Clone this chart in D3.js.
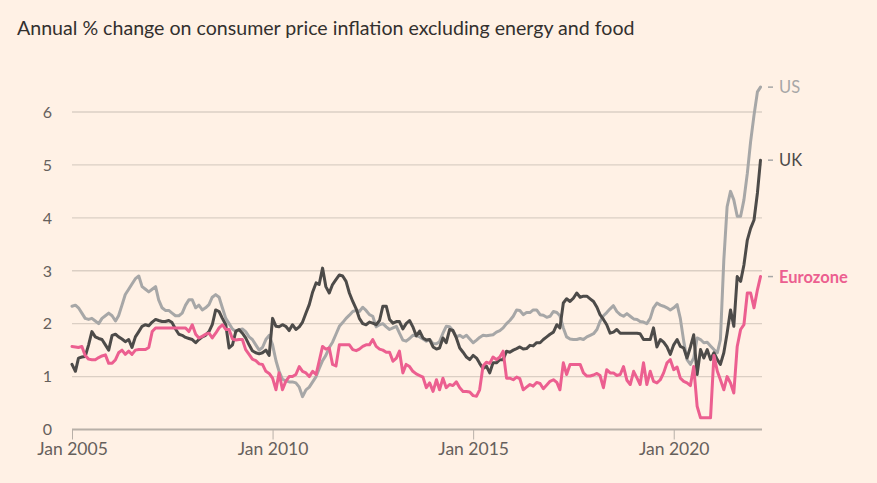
<!DOCTYPE html>
<html>
<head>
<meta charset="utf-8">
<script src="https://cdn.jsdelivr.net/npm/d3@7"></script>
<style>
  html, body { margin: 0; padding: 0; background: #fff1e5; }
  svg { display: block; }
  text { font-family: Lato, "Open Sans", sans-serif; }
</style>
</head>
<body>
<svg id="chart" width="877" height="483"></svg>
<script>
// ---- Data (monthly, first value plotted at Jan 2005, last at Mar 2022) ----
const startYear = 2005, startMonth = 0;
const title = "Annual % change on consumer price inflation excluding energy and food";
const yTicks = [0, 1, 2, 3, 4, 5, 6];
const xTickLabels = ["Jan 2005", "Jan 2010", "Jan 2015", "Jan 2020"];
const xTickYears = [2005, 2010, 2015, 2020];
const seriesNames = ["US", "UK", "Eurozone"];

const us = [
  2.33,2.35,2.3,2.2,2.1,2.08,2.1,2.05,2.0,2.1,2.15,2.2,2.15,2.05,2.15,2.35,2.55,2.65,2.75,2.85,
  2.9,2.7,2.65,2.6,2.65,2.7,2.45,2.3,2.25,2.25,2.2,2.15,2.15,2.2,2.35,2.45,2.45,2.3,2.35,2.26,
  2.3,2.36,2.5,2.55,2.5,2.3,2.1,2.0,1.9,1.85,1.88,1.9,1.85,1.75,1.7,1.6,1.5,1.55,1.7,1.78,
  1.6,1.3,1.1,0.95,0.92,0.9,0.9,0.88,0.8,0.62,0.75,0.8,0.9,1.0,1.15,1.3,1.4,1.55,1.65,1.8,
  1.95,2.02,2.1,2.16,2.23,2.25,2.23,2.31,2.25,2.17,2.14,1.94,1.98,2.0,1.94,1.89,1.92,1.95,1.82,1.69,
  1.67,1.72,1.78,1.77,1.75,1.71,1.67,1.7,1.62,1.62,1.66,1.82,1.95,1.94,1.87,1.75,1.78,1.74,1.78,1.71,
  1.64,1.69,1.74,1.78,1.77,1.78,1.79,1.84,1.87,1.92,2.0,2.06,2.14,2.26,2.25,2.17,2.21,2.21,2.26,2.26,
  2.17,2.16,2.12,2.14,2.23,2.21,2.15,1.92,1.75,1.71,1.7,1.7,1.72,1.7,1.75,1.78,1.81,1.89,2.04,2.15,
  2.21,2.28,2.34,2.23,2.17,2.14,2.19,2.14,2.09,2.08,2.04,2.03,2.0,2.1,2.3,2.39,2.35,2.33,2.3,2.26,
  2.3,2.36,2.1,1.67,1.32,1.23,1.35,1.73,1.7,1.64,1.65,1.58,1.51,1.45,1.7,3.2,4.21,4.5,4.34,4.03,
  4.03,4.34,4.84,5.44,5.94,6.38,6.47
];

const uk = [
  1.23,1.1,1.35,1.37,1.38,1.6,1.85,1.75,1.72,1.7,1.6,1.5,1.78,1.8,1.75,1.71,1.66,1.7,1.55,1.75,
  1.85,1.95,1.98,1.96,2.03,2.08,2.06,2.04,2.04,2.06,2.02,1.9,1.8,1.78,1.74,1.72,1.7,1.64,1.7,1.75,
  1.78,1.85,1.98,2.26,2.23,2.1,1.98,1.54,1.6,1.86,1.89,1.82,1.73,1.6,1.49,1.45,1.43,1.45,1.5,1.4,
  2.1,1.95,1.94,1.98,1.95,1.87,1.98,1.89,1.94,2.03,2.2,2.36,2.6,2.77,2.74,3.05,2.7,2.58,2.74,2.83,
  2.92,2.9,2.8,2.58,2.42,2.28,2.1,2.0,1.98,2.03,2.01,1.98,2.06,2.33,2.33,2.08,2.01,2.04,2.04,1.9,
  2.0,2.06,1.94,1.77,1.86,1.73,1.69,1.7,1.56,1.52,1.54,1.73,1.64,1.89,1.87,1.73,1.54,1.46,1.37,1.32,
  1.4,1.35,1.25,1.15,1.2,1.07,1.26,1.26,1.32,1.32,1.48,1.46,1.5,1.53,1.56,1.52,1.53,1.59,1.58,1.64,
  1.64,1.7,1.75,1.8,1.84,1.98,1.92,2.39,2.47,2.42,2.48,2.58,2.5,2.52,2.52,2.47,2.42,2.31,2.17,2.08,
  1.98,1.82,1.84,1.89,1.82,1.82,1.82,1.82,1.82,1.82,1.81,1.7,1.7,1.7,1.92,1.56,1.7,1.65,1.56,1.42,
  1.6,1.7,1.57,1.54,1.35,1.56,1.79,1.04,1.51,1.35,1.51,1.32,1.45,1.32,1.23,1.45,1.82,2.26,1.95,2.89,
  2.8,3.11,3.58,3.8,3.96,4.47,5.09
];

const eurozone = [
  1.57,1.56,1.55,1.57,1.4,1.33,1.32,1.32,1.36,1.39,1.41,1.25,1.25,1.32,1.45,1.5,1.42,1.48,1.42,1.5,
  1.51,1.51,1.51,1.55,1.85,1.92,1.92,1.92,1.92,1.92,1.92,1.92,1.92,1.92,1.92,1.85,1.98,1.8,1.73,1.76,
  1.8,1.82,1.73,1.82,1.92,1.98,1.89,1.89,1.71,1.69,1.7,1.7,1.51,1.42,1.33,1.3,1.24,1.23,1.1,1.06,
  0.97,0.75,1.07,0.75,0.91,1.0,1.0,1.04,1.19,1.1,1.07,1.0,1.1,1.04,1.29,1.57,1.52,1.54,1.23,1.2,
  1.6,1.6,1.6,1.6,1.51,1.49,1.52,1.57,1.6,1.6,1.7,1.57,1.52,1.5,1.46,1.46,1.29,1.35,1.48,1.07,
  1.23,1.19,1.1,1.05,1.02,0.99,0.79,0.88,0.72,0.94,0.75,0.97,0.79,0.85,0.83,0.9,0.79,0.72,0.72,0.71,
  0.64,0.63,0.75,1.2,1.27,1.25,1.37,1.32,1.37,1.48,0.97,0.97,0.94,0.99,0.96,0.75,0.8,0.85,0.82,0.89,
  0.87,0.77,0.84,0.91,0.94,0.89,0.75,1.26,1.04,1.23,1.23,1.23,1.23,1.07,1.01,1.01,1.03,1.06,1.02,0.79,
  1.13,1.07,1.07,1.02,1.04,1.19,0.93,0.85,1.1,0.97,0.85,1.26,0.85,1.1,0.91,0.88,0.94,1.07,1.26,1.32,
  1.13,1.18,0.97,0.91,0.88,0.83,1.19,0.44,0.22,0.22,0.22,0.22,1.4,1.1,0.94,0.75,1.0,0.88,0.69,1.57,
  1.89,1.98,2.58,2.58,2.3,2.64,2.89
];

// ---- Styles ----
const colors = { US: "#a7a7a7", UK: "#4d4b49", Eurozone: "#ec5f90" };
const W = 877, H = 483;

const svg = d3.select("#chart");
svg.append("rect").attr("width", W).attr("height", H).attr("fill", "#fff1e5");

const dateOf = i => new Date(startYear, startMonth + i, 1);
const n = us.length;

const x = d3.scaleTime()
  .domain([dateOf(0), dateOf(n - 1)])
  .range([72, 760.5]);
const y = d3.scaleLinear().domain([0, 6]).range([429.5, 112]);

// title
svg.append("text")
  .attr("x", 17).attr("y", 34.5)
  .attr("fill", "#33302e")
  .style("font-size", "19.6px")
  .text(title);

// gridlines
svg.append("g").selectAll("line").data(yTicks.filter(d => d > 0)).join("line")
  .attr("x1", 72).attr("x2", 762)
  .attr("y1", d => y(d)).attr("y2", d => y(d))
  .attr("stroke", "#dbcfc4").attr("stroke-width", 1.3);

// y labels
svg.append("g").selectAll("text").data(yTicks).join("text")
  .attr("x", 52).attr("y", d => y(d))
  .attr("dy", "0.36em")
  .attr("text-anchor", "end")
  .attr("fill", "#66605c")
  .style("font-size", "16px")
  .text(d => d);

// x axis
const xAxis = d3.axisBottom(x)
  .tickValues(xTickYears.map(yr => new Date(yr, 0, 1)))
  .tickFormat((d, i) => xTickLabels[i])
  .tickSize(10)
  .tickPadding(3);
const gx = svg.append("g").attr("transform", `translate(0,${y(0)})`).call(xAxis);
gx.select(".domain").remove();
gx.selectAll(".tick line").attr("stroke", "#b8b0a8").attr("stroke-width", 1);
gx.selectAll(".tick text").attr("fill", "#66605c").style("font-size", "17.5px")
  .style("font-family", "Lato, 'Open Sans', sans-serif");
svg.append("line")
  .attr("x1", 72).attr("x2", 762)
  .attr("y1", y(0)).attr("y2", y(0))
  .attr("stroke", "#b8b0a8").attr("stroke-width", 2);

// lines
const line = d3.line()
  .x((d, i) => x(dateOf(i)))
  .y(d => y(d))
  .curve(d3.curveLinear);

const seriesData = { US: us, UK: uk, Eurozone: eurozone };
seriesNames.forEach(name => {
  svg.append("path")
    .datum(seriesData[name])
    .attr("fill", "none")
    .attr("stroke", colors[name])
    .attr("stroke-width", 3)
    .attr("stroke-linejoin", "round")
    .attr("stroke-linecap", "round")
    .attr("d", line);
});

// end labels
seriesNames.forEach(name => {
  const arr = seriesData[name];
  const yy = y(arr[arr.length - 1]);
  svg.append("line")
    .attr("x1", 768).attr("x2", 773)
    .attr("y1", yy).attr("y2", yy)
    .attr("stroke", "#a7a7a7").attr("stroke-width", 1.5);
  svg.append("text")
    .attr("x", 779).attr("y", yy).attr("dy", "0.36em")
    .attr("fill", colors[name])
    .style("font-size", "16.5px")
    .style("font-weight", name === "Eurozone" ? "700" : "400")
    .text(name);
});
</script>
</body>
</html>
